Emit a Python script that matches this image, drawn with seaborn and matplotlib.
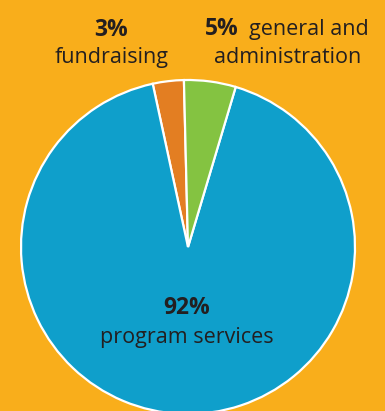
import matplotlib
matplotlib.use("Agg")
import matplotlib.pyplot as plt
import seaborn as sns

categories = ["fundraising", "program services", "general and administration"]
values = [3, 92, 5]
colors = ["#E37E22", "#0F9FCB", "#84C341"]
bg = "#F9AE1B"
txt = "#231F20"

sns.set_style("white")
plt.rcParams["font.family"] = ["Open Sans", "DejaVu Sans"]

fig = plt.figure(figsize=(3.85, 4.11), dpi=100, facecolor=bg)
ax = fig.add_axes([0, 0, 1, 1])
ax.set_facecolor(bg)

H = 411
ax.pie(values, colors=colors, startangle=91.4, counterclock=True,
       center=(188, H - 247), radius=167,
       wedgeprops=dict(edgecolor="white", linewidth=1.6))
ax.set_xlim(0, 385)
ax.set_ylim(0, H)
ax.set_aspect("equal")
ax.axis("off")

fs = 15.5
fb = 16.5
def T(x, y, s, bold=False, **kw):
    ax.text(x, H - y, s, fontsize=fb if bold else fs, color=txt, va="baseline",
            fontweight="bold" if bold else "normal", **kw)

T(111.5, 36, "3%", bold=True, ha="center")
T(111.5, 63, "fundraising", ha="center")
T(205, 35, "5%", bold=True, ha="left")
T(249, 35, "general and", ha="left")
T(287.5, 63, "administration", ha="center")
T(187, 314, "92%", bold=True, ha="center")
T(187, 343, "program services", ha="center")

fig.savefig("out.png", dpi=100, facecolor=bg)
